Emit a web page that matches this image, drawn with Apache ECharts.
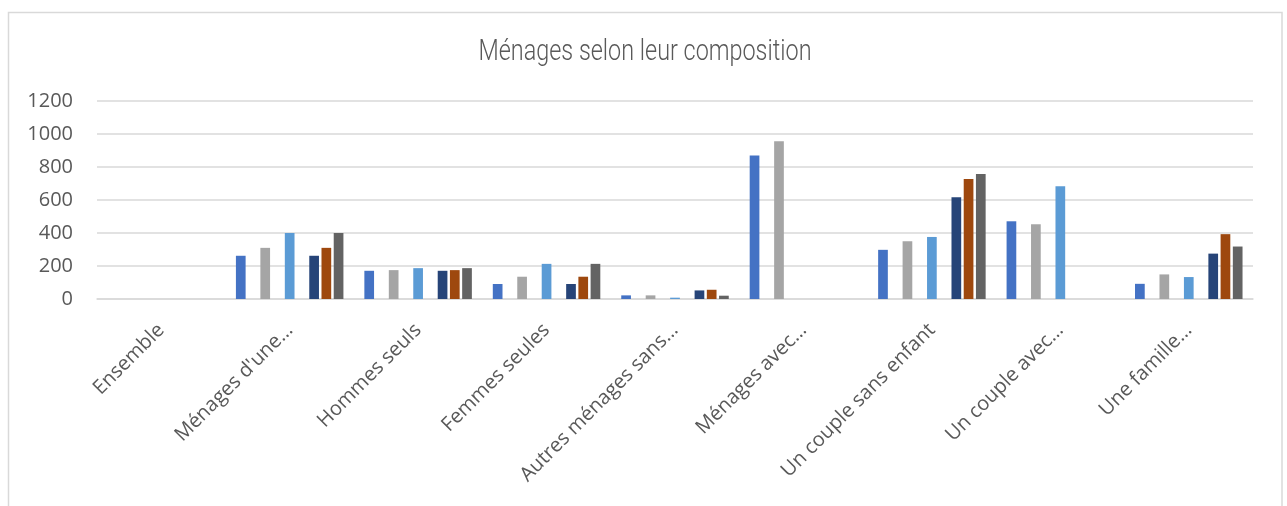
<!DOCTYPE html>
<html>
<head>
<meta charset="utf-8">
<script src="https://cdn.jsdelivr.net/npm/echarts@6/dist/echarts.min.js"></script>
<style>
  html, body { margin: 0; padding: 0; background: #fff; }
  #main { width: 1287px; height: 506px; }
</style>
</head>
<body>
<div id="main"></div>
<script>
var categories = ['Ensemble', "Ménages d'une…", 'Hommes seuls', 'Femmes seules',
  'Autres ménages sans…', 'Ménages avec…', 'Un couple sans enfant', 'Un couple avec…', 'Une famille…'];

var yTicks = [0, 200, 400, 600, 800, 1000, 1200];

// 9 séries, 2/4/6 vides sur l'image
var serie1 = [null, 262, 171, 91, 22, 870, 298, 471, 92];
var serie2 = [null, null, null, null, null, null, null, null, null];
var serie3 = [null, 310, 175, 135, 22, 956, 350, 453, 149];
var serie4 = [null, null, null, null, null, null, null, null, null];
var serie5 = [null, 400, 187, 213, 8, null, 376, 683, 133];
var serie6 = [null, null, null, null, null, null, null, null, null];
var serie7 = [null, 262, 171, 91, 52, null, 616, null, 275];
var serie8 = [null, 310, 175, 135, 56, null, 728, null, 393];
var serie9 = [null, 400, 187, 213, 20, null, 757, null, 318];

var colors = ['#4472C4', '#ED7D31', '#A5A5A5', '#FFC000', '#5B9BD5', '#70AD47', '#264478', '#9E480E', '#636363'];

var chart = echarts.init(document.getElementById('main'));

var allSeries = [serie1, serie2, serie3, serie4, serie5, serie6, serie7, serie8, serie9];
var series = [];
for (var i = 0; i < allSeries.length; i++) {
  series.push({
    name: 'Série ' + (i + 1),
    type: 'bar',
    data: allSeries[i],
    barGap: '26%',
    barCategoryGap: '16.3%',
    itemStyle: { color: colors[i] }
  });
}

var option = {
  animation: false,
  color: colors,
  graphic: [{
    type: 'rect',
    shape: { x: 8.5, y: 12.5, width: 1273.5, height: 600 },
    style: { fill: null, stroke: '#d9d9d9', lineWidth: 1.5 },
    silent: true
  }, {
    // titre en police étroite : Roboto compressé
    type: 'text',
    x: 645,
    y: 52,
    scaleX: 0.78,
    originX: 0,
    style: {
      text: 'Ménages selon leur composition',
      font: "300 30px Roboto, sans-serif",
      fill: '#595959',
      align: 'center',
      verticalAlign: 'middle'
    },
    silent: true
  }],
  grid: {
    left: 97,
    right: 34,
    top: 101,
    bottom: 207,
    containLabel: false
  },
  xAxis: {
    type: 'category',
    data: categories,
    axisTick: { show: false },
    axisLine: { lineStyle: { color: '#d9d9d9', width: 1.5 } },
    axisLabel: {
      rotate: 45,
      interval: 0,
      margin: 28,
      color: '#595959',
      fontFamily: "'Open Sans', sans-serif",
      fontSize: 20
    }
  },
  yAxis: {
    type: 'value',
    min: yTicks[0],
    max: yTicks[yTicks.length - 1],
    interval: 200,
    axisLine: { show: false },
    axisTick: { show: false },
    splitLine: { lineStyle: { color: '#d9d9d9', width: 1.5 } },
    axisLabel: {
      margin: 24,
      color: '#595959',
      fontFamily: "'Open Sans', sans-serif",
      fontSize: 20,
      formatter: function (v) { return String(v); }
    }
  },
  series: series
};

chart.setOption(option);
</script>
</body>
</html>
